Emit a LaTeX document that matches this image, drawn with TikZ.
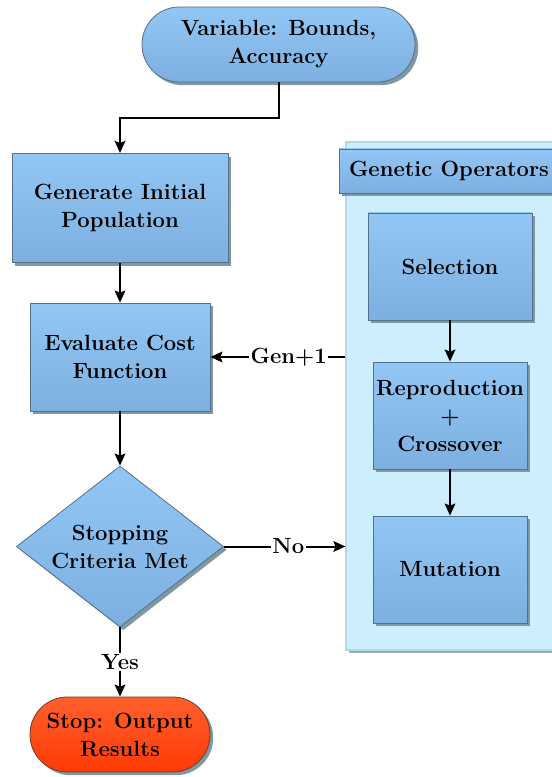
\documentclass[tikz,border=0pt]{standalone}
\usetikzlibrary{arrows.meta,shadows,shapes.geometric}
\definecolor{boxtop}{RGB}{146,198,244}
\definecolor{boxbot}{RGB}{125,176,224}
\definecolor{boxline}{RGB}{84,112,138}
\definecolor{shadowc}{RGB}{128,152,162}
\definecolor{panelfill}{RGB}{205,238,252}
\definecolor{panelline}{RGB}{176,216,234}
\definecolor{stoptop}{RGB}{255,96,46}
\definecolor{stopbot}{RGB}{255,58,4}
\definecolor{stopline}{RGB}{110,60,40}
\tikzset{
  txt/.style={font=\rmfamily\bfseries\fontsize{16.5}{21}\selectfont, align=center, text=black},
  shad/.style={drop shadow={shadow xshift=2.4pt, shadow yshift=-2.4pt, fill=shadowc, opacity=1}},
  bluebox/.style={rectangle, shad, draw=boxline, line width=0.6pt, top color=boxtop, bottom color=boxbot, inner sep=0pt, txt},
  term/.style={bluebox, rounded corners=28pt, minimum height=56.25pt},
  stopterm/.style={rectangle, shad, draw=stopline, line width=0.6pt, top color=stoptop, bottom color=stopbot, inner sep=0pt, rounded corners=28pt, minimum height=56.25pt, txt},
  decision/.style={diamond, shad, draw=boxline, line width=0.6pt, top color=boxtop, bottom color=boxbot, inner sep=0pt},
  panelbox/.style={rectangle, draw=panelline, line width=0.8pt, fill=panelfill, inner sep=0pt,
     drop shadow={shadow xshift=2.4pt, shadow yshift=-2.4pt, fill=shadowc!80, opacity=1}},
  conn/.style={line width=1.5pt, draw=black, -{Stealth[length=9pt,width=8pt,inset=1.5pt]}},
  lbl/.style={txt, fill=white, inner sep=1pt}
}
\begin{document}
\begin{tikzpicture}[x=0.75pt,y=-0.75pt]
\useasboundingbox (0,0) rectangle (552,777);
\fill[white] (0,0) rectangle (552,777);
% panel
\node[panelbox, minimum width=160.5pt, minimum height=381pt] (ops) at (453,396) {};
\node[bluebox, minimum width=165pt, minimum height=33pt] (hdr) at (449,171) {Genetic Operators};
\node[bluebox, minimum width=123pt, minimum height=80.25pt] (sel) at (450,266.5) {Selection};
\node[bluebox, minimum width=115.5pt, minimum height=80.25pt] (rep) at (450,415.5) {Reproduction\\+\\Crossover};
\node[bluebox, minimum width=115.5pt, minimum height=80.25pt] (mut) at (450,569.5) {Mutation};
% main flow
\node[term, minimum width=204.75pt] (top) at (278.5,44.5) {Variable: Bounds,\\Accuracy};
\node[bluebox, minimum width=162pt, minimum height=82pt] (gen) at (120,208) {Generate Initial\\Population};
\node[bluebox, minimum width=135pt, minimum height=81pt] (eval) at (120,357) {Evaluate Cost\\Function};
\node[decision, minimum width=155.25pt, minimum height=120.75pt] (crit) at (120,546.5) {};
\node[txt] at (crit) {Stopping\\Criteria Met};
\node[stopterm, minimum width=135pt] (stop) at (120,734.5) {Stop: Output\\Results};
% connectors
\coordinate (jog) at (120,118);
\draw[conn] (top.south) |- (jog) -- (gen.north);
\draw[conn] (gen.south) -- (eval.north);
\draw[conn] (eval.south) -- (crit.north);
\draw[conn] (crit.south) -- node[lbl, pos=0.5] {Yes} (stop.north);
\draw[conn] (crit.east) -- node[lbl, pos=0.53] {No} (ops.west |- crit.east);
\draw[conn] (ops.west |- eval.east) -- node[lbl, pos=0.42] {Gen+1} (eval.east);
\draw[conn] (sel.south) -- (rep.north);
\draw[conn] (rep.south) -- (mut.north);
\end{tikzpicture}
\end{document}
